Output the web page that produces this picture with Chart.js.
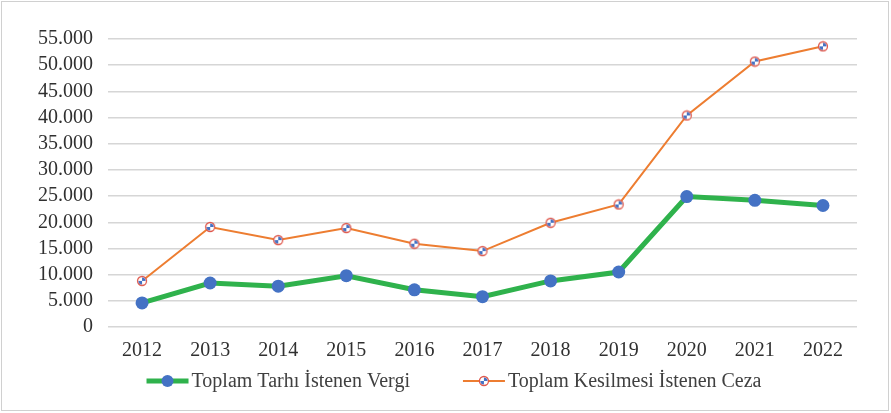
<!DOCTYPE html>
<html>
<head>
<meta charset="utf-8">
<script src="https://cdn.jsdelivr.net/npm/chart.js@4"></script>
<style>
  html, body { margin: 0; padding: 0; background: #fff; }
  #wrap { position: absolute; left: 0; top: 0; width: 891px; height: 413px; }
  #frame { position: absolute; left: 1px; top: 1px; width: 886px; height: 408px; border: 1px solid #d0d0d0; pointer-events: none; }
</style>
</head>
<body>
<div id="wrap">
  <canvas id="chart" width="891" height="413"></canvas>
  <div id="frame"></div>
</div>
<script>
// years on the x axis
const years = ['2012', '2013', '2014', '2015', '2016', '2017', '2018', '2019', '2020', '2021', '2022'];

// values
const vergi = [4600, 8400, 7800, 9800, 7100, 5800, 8800, 10500, 24900, 24200, 23200];
const ceza = [8800, 19100, 16600, 18900, 15900, 14500, 19900, 23400, 40400, 50700, 53600];

const seriesNames = ['Toplam Tarhı İstenen Vergi', 'Toplam Kesilmesi İstenen Ceza'];

const GREEN = '#2fb24c';
const BLUE = '#4472c4';
const ORANGE = '#ed7d31';
const SERIF = '"Liberation Serif", "Times New Roman", serif';

// the small white/red/blue marker of the ceza series
function cezaMarker(g, x, y) {
    g.fillStyle = '#fff';
    g.strokeStyle = '#e0584c';
    g.lineWidth = 1.3;
    g.beginPath();
    g.arc(x, y, 4.5, 0, Math.PI * 2);
    g.fill();
    g.stroke();
    g.fillStyle = BLUE;
    g.beginPath();
    g.moveTo(x, y);
    g.arc(x, y, 3.6, Math.PI * 0.5, Math.PI * 1.0);
    g.closePath();
    g.fill();
    g.beginPath();
    g.moveTo(x, y);
    g.arc(x, y, 3.6, Math.PI * 1.5, Math.PI * 2.0);
    g.closePath();
    g.fill();
}

const cezaPoint = document.createElement('canvas');
cezaPoint.width = 12;
cezaPoint.height = 12;
cezaMarker(cezaPoint.getContext('2d'), 6, 6);

// legend drawn by hand: line + marker + text, centred under the chart
const legendPlugin = {
    id: 'lineLegend',
    afterDraw(chart) {
        const g = chart.ctx;
        g.save();
        g.font = '20px ' + SERIF;
        g.textBaseline = 'middle';
        const iconW = 42, gapText = 3, gapItem = 53;
        const w0 = g.measureText(seriesNames[0]).width;
        const w1 = g.measureText(seriesNames[1]).width;
        const total = iconW + gapText + w0 + gapItem + iconW + gapText + w1;
        let x = 454 - total / 2;
        const y = 381;

        g.strokeStyle = GREEN;
        g.lineWidth = 5;
        g.beginPath();
        g.moveTo(x, y);
        g.lineTo(x + iconW, y);
        g.stroke();
        g.fillStyle = BLUE;
        g.beginPath();
        g.arc(x + iconW / 2, y, 6, 0, Math.PI * 2);
        g.fill();
        x += iconW + gapText;
        g.fillStyle = '#404040';
        g.fillText(seriesNames[0], x, y + 1);
        x += w0 + gapItem;

        g.strokeStyle = ORANGE;
        g.lineWidth = 2;
        g.beginPath();
        g.moveTo(x, y);
        g.lineTo(x + iconW, y);
        g.stroke();
        cezaMarker(g, x + iconW / 2, y);
        x += iconW + gapText;
        g.fillStyle = '#404040';
        g.fillText(seriesNames[1], x, y + 1);
        g.restore();
    }
};

function dotted(v) {
    return String(v).replace(/\B(?=(\d{3})+(?!\d))/g, '.');
}

const ctx = document.getElementById('chart');
new Chart(ctx, {
    type: 'line',
    data: {
        labels: years,
        datasets: [
            {
                label: seriesNames[0],
                data: vergi,
                borderColor: GREEN,
                borderWidth: 5,
                pointRadius: 6.5,
                pointBackgroundColor: BLUE,
                pointBorderColor: BLUE,
                pointBorderWidth: 0,
                tension: 0
            },
            {
                label: seriesNames[1],
                data: ceza,
                borderColor: ORANGE,
                borderWidth: 2,
                pointStyle: cezaPoint,
                pointRadius: 5,
                tension: 0
            }
        ]
    },
    plugins: [legendPlugin],
    options: {
        responsive: false,
        animation: false,
        layout: {
            padding: { top: 39, right: 34, bottom: 38, left: 0 }
        },
        plugins: {
            tooltip: { enabled: false },
            legend: { display: false }
        },
        scales: {
            x: {
                offset: true,
                grid: { display: false, drawTicks: false },
                border: { display: false },
                ticks: {
                    color: '#303030',
                    padding: 12,
                    autoSkip: false,
                    maxRotation: 0,
                    font: { family: SERIF, size: 20 }
                }
            },
            y: {
                min: 0,
                max: 55000,
                afterFit: (scale) => { scale.width = 108; },
                grid: { color: '#d6d6d6', lineWidth: 1.5, drawTicks: false },
                border: { display: false },
                ticks: {
                    stepSize: 5000,
                    autoSkip: false,
                    padding: 15,
                    color: '#303030',
                    font: { family: SERIF, size: 20 },
                    callback: (v) => dotted(v)
                }
            }
        }
    }
});
</script>
</body>
</html>
